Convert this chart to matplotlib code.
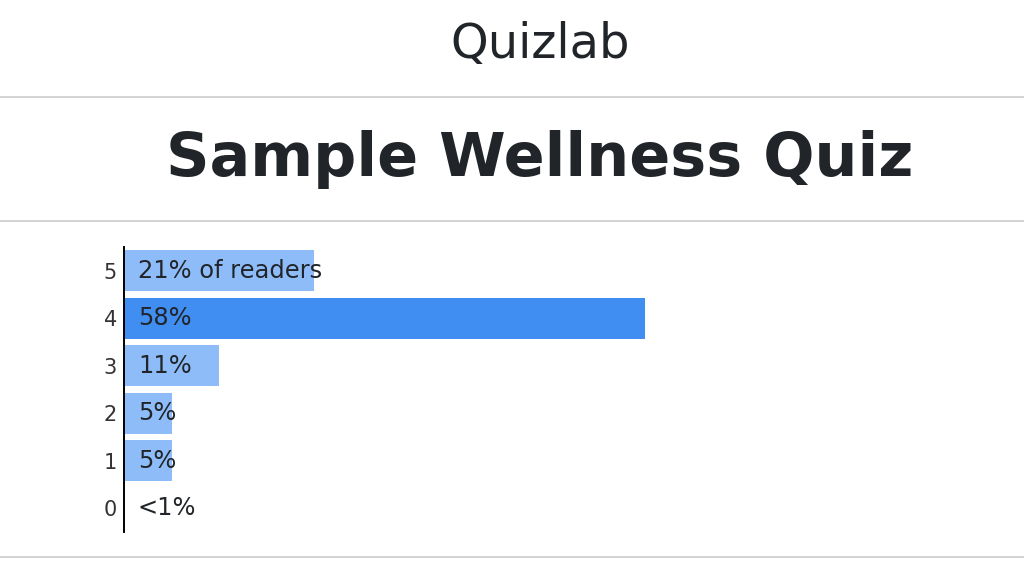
import matplotlib
matplotlib.use("Agg")
from matplotlib import pyplot as plt
from matplotlib.lines import Line2D

# Données du quiz (score -> part des lecteurs, en %)
scores = [0, 1, 2, 3, 4, 5]
shares = [0.0, 5.3, 5.3, 10.5, 57.9, 21.1]
labels = ["<1%", "5%", "5%", "11%", "58%", "21% of readers"]
highlight = 4

LIGHT = '#8ebcf8'
DARK = '#418ef3'
TEXT = '#212529'
RULE = '#cccccc'

W, H = 1024, 576
fig = plt.figure(figsize=(W / 100, H / 100), dpi=100)

# Titres et filets horizontaux
fig.text(540 / W, 1 - 45 / H, 'Quizlab', ha='center', va='center',
         fontsize=34.5, color=TEXT)
fig.text(540 / W, 1 - 159 / H, 'Sample Wellness Quiz', ha='center', va='center',
         fontsize=43.5, fontweight='bold', color=TEXT)
for y in (97, 221, 557):
    fig.add_artist(Line2D([0, 1], [1 - y / H, 1 - y / H], color=RULE,
                          linewidth=1.2, transform=fig.transFigure))

# Graphique en barres horizontales
left, right = 124, 900
top, bottom = 247, 532
ax = fig.add_axes([left / W, 1 - bottom / H, (right - left) / W, (bottom - top) / H])
colors = [DARK if s == highlight else LIGHT for s in scores]
ax.barh(scores, shares, height=0.86, color=colors)
ax.set_xlim(0, (right - left) / 9.0)
ax.set_ylim(-0.5, 5.5)

for s, lab in zip(scores, labels):
    ax.text(1.55, s, lab, ha='left', va='center', fontsize=17.4, color=TEXT)

ax.set_yticks(scores)
ax.set_yticklabels([str(s) for s in scores])
ax.tick_params(axis='y', length=0, pad=5, labelsize=15, labelcolor='#333333')
ax.set_xticks([])
for side in ('top', 'right', 'bottom'):
    ax.spines[side].set_visible(False)
ax.spines['left'].set_color('black')
ax.spines['left'].set_linewidth(1.4)

plt.savefig('out.png', dpi=100)
plt.close()
